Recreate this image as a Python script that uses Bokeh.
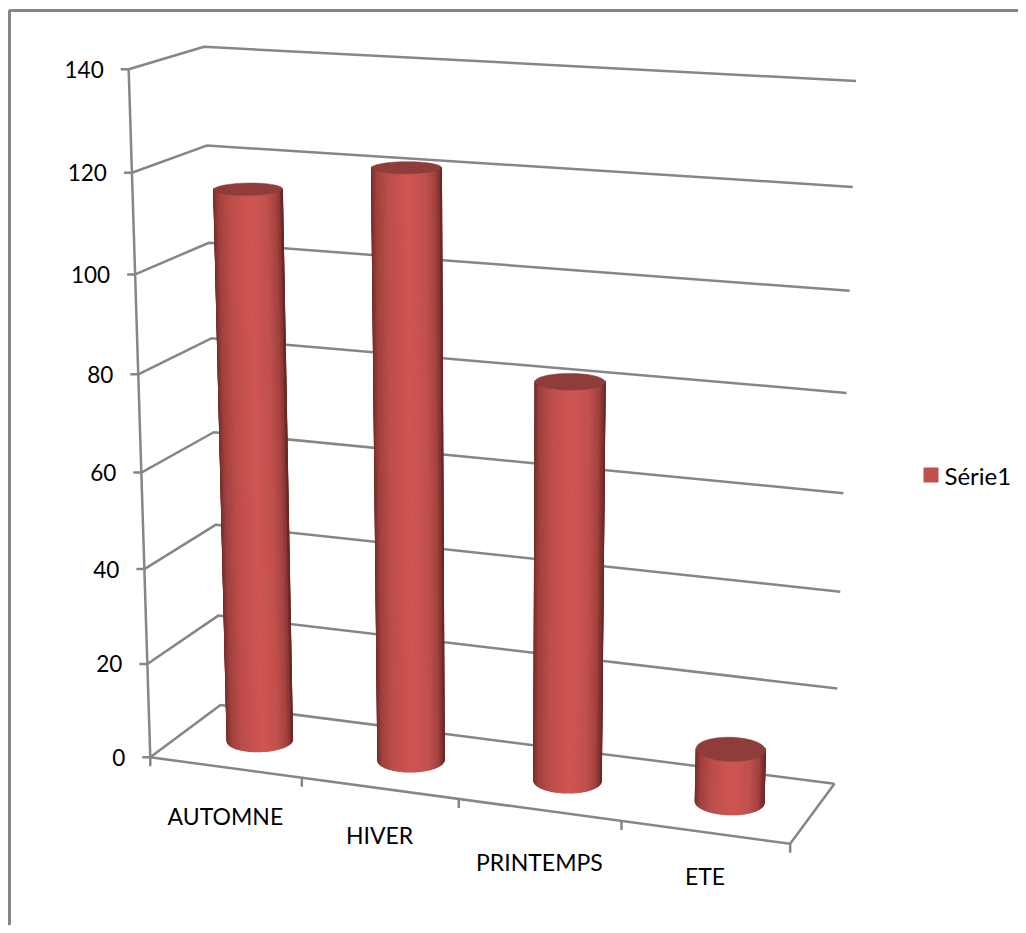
import numpy as np
from bokeh.plotting import figure
from bokeh.models import Range1d
from bokeh.core.properties import value
from bokeh.embed import file_html
from bokeh.resources import INLINE

categories = ["AUTOMNE", "HIVER", "PRINTEMPS", "ETE"]
series_name = "Série1"
series_values = [115, 121.3, 81.8, 11]
value_ticks = [0, 20, 40, 60, 80, 100, 120, 140]

GRAY = "#868686"
FONT = value("Lato")
FSIZE = "22.5px"
FSIZE_CAT = "23px"
FSIZE_LEG = "24px"
TOP_COL = "#8f3d3a"
SWATCH = "#c0504d"
VMAX = 140.0
NCAT = len(categories)

# camera calibration: world corners of the chart box (cat, value, depth) -> page pixel
calib_world = [(0, 0, 0), (0, 140, 0), (0, 0, 1), (0, 140, 1), (4, 0, 1), (4, 140, 1), (4, 0, 0),
               (1, 0, 0), (2, 0, 0), (3, 0, 0), (4, 20, 1), (4, 80, 1), (0, 60, 0)]
calib_page = [(151, 757), (127, 70), (219, 705), (205, 46), (833, 782), (855, 80), (790, 843),
              (302, 778), (458, 798), (621, 821), (837, 689), (847, 393), (140, 470)]

A, b = [], []
for (X, Y, Z), (x, y) in zip(calib_world, calib_page):
    W = [X, Y, Z, 1]
    A.append(W + [0, 0, 0, 0] + [-x * c for c in W[:3]])
    b.append(x)
    A.append([0, 0, 0, 0] + W + [-y * c for c in W[:3]])
    b.append(y)
sol = np.linalg.lstsq(np.array(A, float), np.array(b, float), rcond=None)[0]
CAM = np.append(sol, 1.0).reshape(3, 4)


def proj(X, Y, Z):
    X, Y, Z = np.broadcast_arrays(np.asarray(X, float), np.asarray(Y, float), np.asarray(Z, float))
    P = CAM @ np.stack([X.ravel(), Y.ravel(), Z.ravel(), np.ones(X.size)])
    return (P[0] / P[2]).reshape(X.shape), (P[1] / P[2]).reshape(X.shape)


p = figure(width=1018, height=925, output_backend="svg", toolbar_location=None,
           x_range=Range1d(0, 1018), y_range=Range1d(925, 0), min_border=0,
           x_axis_type=None, y_axis_type=None, outline_line_color=None)
p.grid.visible = False
p.background_fill_color = "white"
p.border_fill_color = "white"

LW = 2.5
# chart frame
p.line([9, 9, 1018], [925, 10, 10], line_color=GRAY, line_width=3)


def seg(x0, y0, x1, y1):
    p.line([x0, x1], [y0, y1], line_color=GRAY, line_width=LW)


# gridlines: left wall + back wall
for v in value_ticks:
    x, y = proj([0, 0, NCAT], [v, v, v], [0, 1, 1])
    p.line(x.tolist(), y.tolist(), line_color=GRAY, line_width=LW)
    seg(x[0] - 8, y[0], x[0], y[0])  # tick
    p.text([float(x[0]) - 25], [float(y[0])], text=[str(v)], text_font=FONT, text_font_size=FSIZE,
           text_align="right", text_baseline="middle", text_color="black")

# axis line, floor
x, y = proj([0, 0], [0, VMAX], [0, 0])
p.line(x.tolist(), y.tolist(), line_color=GRAY, line_width=LW)
x, y = proj([0, NCAT, NCAT], [0, 0, 0], [0, 0, 1])
p.line(x.tolist(), y.tolist(), line_color=GRAY, line_width=LW)
for i in range(NCAT + 1):
    x, y = proj(i, 0, 0)
    seg(float(x), float(y), float(x), float(y) + 9)

# cylinders
RAD = 0.2
N = 96
th = np.linspace(0, 2 * np.pi, N + 1)
shade_u = [-1.0, -0.85, -0.5, 0.08, 0.55, 0.85, 1.0]
shade_r = [0x76, 0xa0, 0xbe, 0xcf, 0xc2, 0xa2, 0x6c]
shade_g = [0x2e, 0x41, 0x4e, 0x56, 0x51, 0x42, 0x28]
shade_b = [0x2c, 0x3e, 0x4b, 0x53, 0x4e, 0x3f, 0x26]

for i, val in enumerate(series_values):
    cx, cz = i + 0.5, 0.5
    X = cx + RAD * np.cos(th)
    Z = cz + RAD * np.sin(th)
    bx, by = proj(X, 0, Z)
    tx, ty = proj(X, val, Z)
    c0x, c0y = proj(cx, 0, cz)
    half = (bx.max() - bx.min()) / 2
    mid = (bx.max() + bx.min()) / 2
    xs, ys, cols = [], [], []
    for k in range(N):
        if (by[k] + by[k + 1]) / 2 < c0y - 1.5:
            continue
        u = ((bx[k] + bx[k + 1]) / 2 - mid) / half
        col = "#%02x%02x%02x" % (int(np.interp(u, shade_u, shade_r)),
                                 int(np.interp(u, shade_u, shade_g)),
                                 int(np.interp(u, shade_u, shade_b)))
        xs.append([bx[k], bx[k + 1], tx[k + 1], tx[k]])
        ys.append([by[k], by[k + 1], ty[k + 1], ty[k]])
        cols.append(col)
    p.patches(xs, ys, fill_color=cols, line_color=cols, line_width=1.2)
    p.patch(tx.tolist(), ty.tolist(), fill_color=TOP_COL, line_color=TOP_COL, line_width=0.5)

# category labels
label_dy = [49, 47, 52, 44]
for i, name in enumerate(categories):
    x, y = proj(i + 0.5, 0, 0)
    p.text([float(x)], [float(y) + label_dy[i]], text=[name],
           text_font=FONT, text_font_size=FSIZE_CAT, text_align="center", text_baseline="middle",
           text_color="black")

# legend
p.rect([930.5], [474.5], width=15, height=15, fill_color=SWATCH, line_color=None)
p.text([944], [474.5], text=[series_name], text_font=FONT, text_font_size=FSIZE_LEG,
       text_align="left", text_baseline="middle", text_color="black")

open("out.html", "w").write(file_html(p, INLINE))
